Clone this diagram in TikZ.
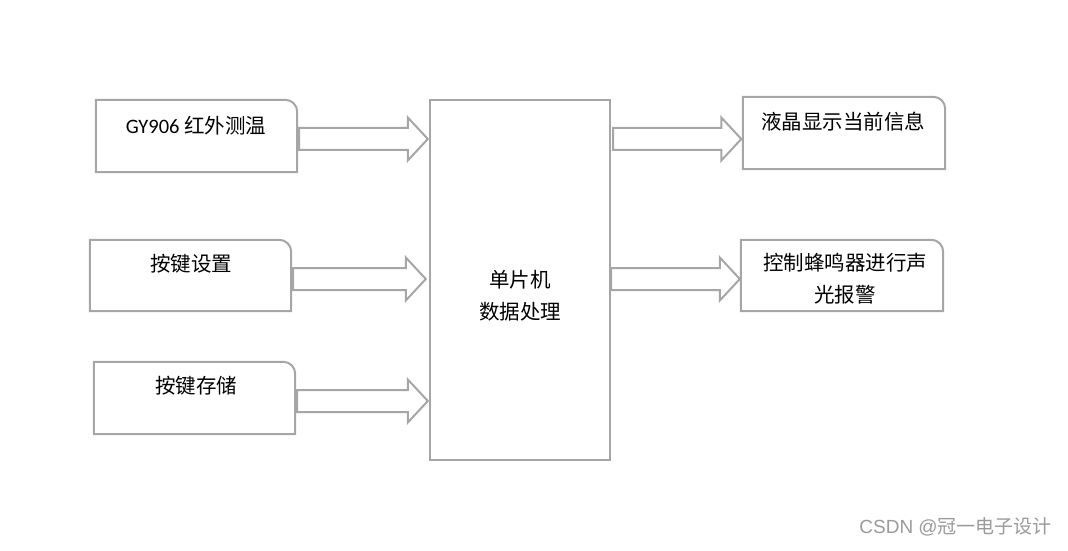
\documentclass[tikz,border=0pt]{standalone}
\usepackage{fontspec}
\setmainfont{Noto Sans CJK SC}
\newfontfamily\latfont{Carlito}
\newfontfamily\wmfont{Liberation Sans}
\usetikzlibrary{calc}
\definecolor{edgegray}{HTML}{A6A6A6}
\definecolor{wmgray}{HTML}{9A9A9A}
\tikzset{
  boxshape/.style={rectangle, draw=none, inner sep=0pt},
  boxline/.style={draw=edgegray, line width=2pt, line join=miter},
  txt/.style={font=\fontsize{20.5}{32}\selectfont, text=black, align=center, inner sep=0pt},
  arrline/.style={draw=edgegray, line width=2pt, line join=miter}
}
\newcommand\onecornerbox[1]{%
  \draw[boxline] (#1.south west) -- (#1.north west) -- ([xshift=-12pt]#1.north east)
    arc[start angle=90, end angle=0, radius=12pt] -- (#1.south east) -- cycle;}
\newcommand\blockarrow[2]{%
  \draw[arrline] ($(#1)+(0,11)$) -- ($(#2)+(-20,11)$) -- ($(#2)+(-20,21.5)$) -- (#2)
    -- ($(#2)+(-20,-21.5)$) -- ($(#2)+(-20,-11)$) -- ($(#1)+(0,-11)$) -- cycle;}
\begin{document}
\begin{tikzpicture}[x=1pt,y=1pt]
\useasboundingbox (0,0) rectangle (1068,550);
% boxes
\node[boxshape, minimum width=201pt, minimum height=72pt] (b1) at (196.5,414) {};
\node[boxshape, minimum width=201pt, minimum height=71pt] (b2) at (190.5,274.5) {};
\node[boxshape, minimum width=201pt, minimum height=72pt] (b3) at (194.5,152) {};
\node[boxshape, minimum width=180pt, minimum height=360pt] (c) at (520,270) {};
\node[boxshape, minimum width=202pt, minimum height=72pt] (r1) at (844,417) {};
\node[boxshape, minimum width=202pt, minimum height=71pt] (r2) at (842,274.5) {};
\onecornerbox{b1}
\onecornerbox{b2}
\onecornerbox{b3}
\onecornerbox{r1}
\onecornerbox{r2}
\draw[boxline] (c.south west) rectangle (c.north east);
% texts
\node[txt] (t1) at (196,424) {{\latfont GY906} 红外测温};
\node[txt] (t2) at (191,286) {按键设置};
\node[txt] (t3) at (196,164) {按键存储};
\node[txt] (tc) at (520,254) {单片机\\数据处理};
\node[txt] (tr1) at (843,428) {液晶显示当前信息};
\node[txt] (tr2) at (845,271) {控制蜂鸣器进行声\\光报警};
% arrows
\coordinate (a1s) at ($(b1.east)+(2,-3)$);
\coordinate (a1e) at ($(a1s -| c.west)+(-2,0)$);
\coordinate (a2s) at ($(b2.east)+(2,-3.5)$);
\coordinate (a2e) at ($(a2s -| c.west)+(-4,0)$);
\coordinate (a3s) at ($(b3.east)+(2,-3)$);
\coordinate (a3e) at ($(a3s -| c.west)+(-2,0)$);
\coordinate (o1s) at ($(a1s -| c.east)+(3,0)$);
\coordinate (o1e) at ($(o1s -| r1.west)+(-1.5,0)$);
\coordinate (o2s) at ($(a2s -| c.east)+(1,0)$);
\coordinate (o2e) at ($(o2s -| r2.west)+(-1,0)$);
\blockarrow{a1s}{a1e}
\blockarrow{a2s}{a2e}
\blockarrow{a3s}{a3e}
\blockarrow{o1s}{o1e}
\blockarrow{o2s}{o2e}
% watermark
\node[font=\fontsize{19}{20}\selectfont, text=wmgray, anchor=east, inner sep=0pt] (wm) at (1052,23) {{\wmfont CSDN @}冠一电子设计};
\end{tikzpicture}
\end{document}
